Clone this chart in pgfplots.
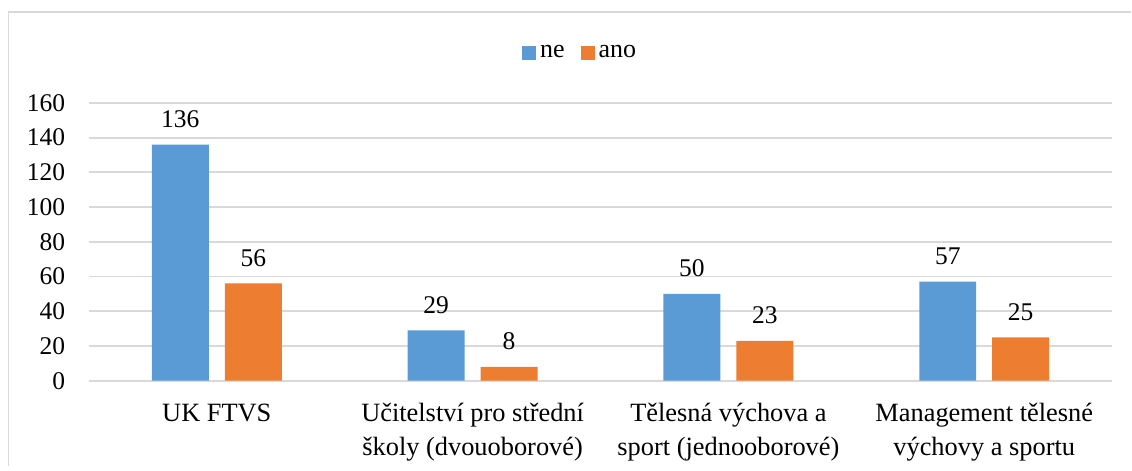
\documentclass[border=0pt]{standalone}
\usepackage{pgfplots}
\pgfplotsset{compat=1.18}
\usepackage{fontspec}
\setmainfont{Liberation Serif}
\definecolor{cblue}{HTML}{5B9BD5}
\definecolor{corange}{HTML}{ED7D31}
\definecolor{cgrid}{HTML}{D9D9D9}
\begin{document}
\fontsize{12.75bp}{16bp}\selectfont
\begin{tikzpicture}[x=1bp,y=1bp]
\path (0,0) rectangle (566,233);
\draw[cgrid, line width=0.9bp] (4.25,0) -- (4.25,227) -- (566,227);
\begin{axis}[
  at={(44.5bp,42.5bp)}, anchor=south west,
  scale only axis, width=512bp, height=139bp,
  xmin=-0.5, xmax=3.5, ymin=0, ymax=160,
  ybar=8bp, bar width=28.5bp,
  xtick={0,1,2,3},
  xticklabels={{UK FTVS},{Učitelství pro střední\\školy (dvouoborové)},{Tělesná výchova a\\sport (jednooborové)},{Management tělesné\\výchovy a sportu}},
  ytick={0,20,...,160},
  ymajorgrids, grid style={cgrid, line width=0.9bp},
  axis line style={draw=none},
  major tick length=0pt,
  tick style={draw=none},
  /pgf/number format/assume math mode=true,
  every tick label/.append style={font=\fontsize{12.75bp}{16bp}\selectfont},
  xticklabel style={align=center, yshift=-7bp, font=\fontsize{13.2bp}{17bp}\selectfont},
  yticklabel style={xshift=-7.5bp},
  nodes near coords,
  nodes near coords style={font=\fontsize{12.75bp}{16bp}\selectfont, yshift=4bp},
  legend style={at={(0.481,1.18)}, anchor=center, draw=none, fill=none,
    legend columns=2, font=\fontsize{13bp}{16bp}\selectfont,
    /tikz/every even column/.append style={column sep=6bp}},
  legend image code/.code={\fill[#1] (0bp,-3.5bp) rectangle (7bp,3.5bp);},
]
\addplot[fill=cblue, draw=none] coordinates {(0,136) (1,29) (2,50) (3,57)};
\addplot[fill=corange, draw=none] coordinates {(0,56) (1,8) (2,23) (3,25)};
\legend{ne,ano}
\end{axis}
\end{tikzpicture}
\end{document}
